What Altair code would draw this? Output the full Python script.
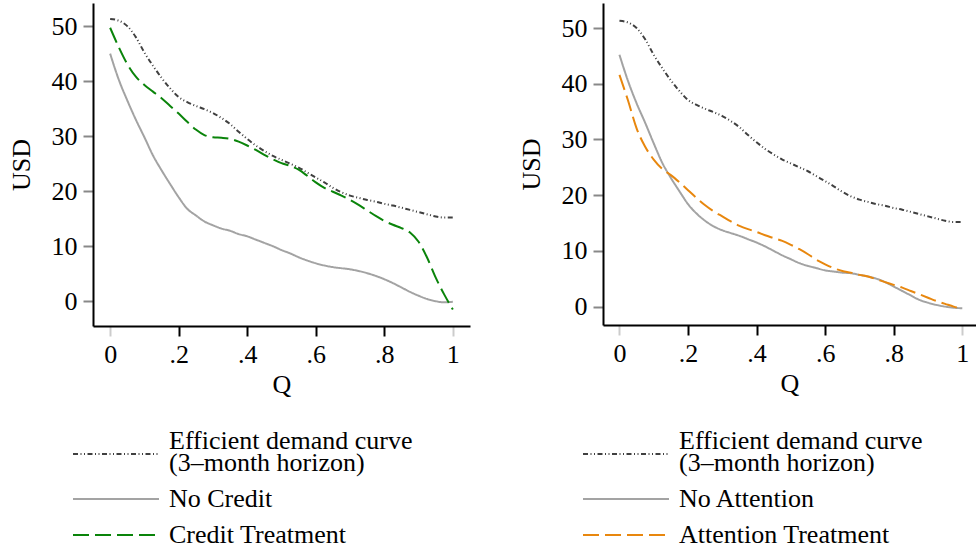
import altair as alt
import pandas as pd

FONT = "Liberation Serif"

Q = [round(i * 0.025, 3) for i in range(41)]

EFFICIENT = [51.3, 51.0, 50.0, 48.0, 45.2, 42.8, 40.6, 38.7, 37.1, 36.2, 35.5,
             34.9, 34.2, 33.3, 32.2, 30.8, 29.5, 28.3, 27.3, 26.4, 25.7, 25.0,
             24.3, 23.4, 22.5, 21.6, 20.6, 19.8, 19.2, 18.8, 18.4, 18.1, 17.7,
             17.4, 17.0, 16.6, 16.2, 15.8, 15.4, 15.2, 15.2]

NO_CREDIT = [45.0, 40.3, 36.5, 33.0, 29.8, 26.5, 23.8, 21.3, 18.9, 16.8, 15.6,
             14.5, 13.8, 13.2, 12.8, 12.2, 11.8, 11.2, 10.6, 10.0, 9.3, 8.7,
             8.0, 7.4, 6.9, 6.5, 6.2, 6.0, 5.8, 5.5, 5.1, 4.6, 4.0, 3.3, 2.5,
             1.7, 1.0, 0.4, 0.0, -0.2, -0.1]

CREDIT = [49.7, 46.2, 43.1, 40.8, 39.3, 38.1, 36.9, 35.5, 34.1, 32.6, 31.2,
          30.2, 29.8, 29.7, 29.5, 29.0, 28.3, 27.5, 26.6, 25.8, 25.1, 24.6,
          23.9, 22.8, 21.6, 20.6, 19.9, 19.2, 18.4, 17.5, 16.5, 15.5, 14.6,
          13.9, 13.3, 12.5, 10.8, 7.9, 4.3, 1.2, -1.5]

NO_ATTENTION = [45.2, 40.5, 36.5, 33.0, 29.3, 25.8, 23.1, 20.7, 18.4, 16.7,
                15.4, 14.4, 13.7, 13.2, 12.7, 12.1, 11.5, 10.8, 10.0, 9.2, 8.5,
                7.8, 7.3, 6.9, 6.5, 6.3, 6.1, 6.0, 5.7, 5.4, 5.0, 4.4, 3.6, 2.8,
                2.0, 1.2, 0.7, 0.3, 0.0, -0.2, -0.3]

ATTENTION = [41.6, 37.0, 32.0, 28.7, 26.4, 24.7, 23.6, 22.3, 20.9, 19.5, 18.2,
             17.1, 16.2, 15.3, 14.5, 13.9, 13.4, 12.8, 12.3, 11.8, 11.1, 10.3,
             9.4, 8.4, 7.6, 6.9, 6.4, 6.1, 5.7, 5.4, 4.9, 4.4, 3.9, 3.4, 2.8,
             2.2, 1.6, 1.0, 0.5, 0.0, -0.4]

EFF_LABEL = "Efficient demand curve"
EFF_SUB = "(3\u2013month horizon)"
LEFT_SERIES = [EFF_LABEL, "No Credit", "Credit Treatment"]
RIGHT_SERIES = [EFF_LABEL, "No Attention", "Attention Treatment"]
X_TICKS = [0, 0.2, 0.4, 0.6, 0.8, 1]
Y_TICKS = [0, 10, 20, 30, 40, 50]

EFF_COLOR = "#404040"
GRAY = "#a3a3a3"
GREEN = "#0a840a"
ORANGE = "#e8870e"


def long_df(names, lists):
    rows = []
    for name, vals in zip(names, lists):
        for q, v in zip(Q, vals):
            rows.append({"q": q, "v": v, "series": name})
    return pd.DataFrame(rows)


def panel(names, lists, colors, xdom, ydom, width, height):
    df = long_df(names, lists)
    legend = alt.Legend(
        orient="none", legendX=10, legendY=438, direction="vertical",
        symbolType="M-4,0H4", symbolSize=462.25, symbolStrokeWidth=2,
        labelFont=FONT, labelFontSize=26, labelColor="black", labelOffset=40,
        rowPadding=10, padding=0, title=None, labelLimit=600,
        labelBaseline={"expr": f"datum.value == '{EFF_LABEL}' ? 'bottom' : 'middle'"},
        labelExpr=f"datum.value == '{EFF_LABEL}' ? ['{EFF_LABEL}', '{EFF_SUB}'] : datum.label",
    )
    xaxis = alt.Axis(
        values=X_TICKS, title="Q", grid=False,
        labelExpr="datum.value == 0 ? '0' : datum.value == 1 ? '1' : '.' + round(datum.value * 10)",
        tickColor={"condition": {"test": "datum.value == 0 || datum.value == 1", "value": "#cccccc"}, "value": "black"},
    )
    yaxis = alt.Axis(values=Y_TICKS, title="USD", grid=False)
    return alt.Chart(df).mark_line(strokeWidth=2, interpolate="monotone").encode(
        x=alt.X("q:Q", scale=alt.Scale(domain=xdom, nice=False, zero=False), axis=xaxis),
        y=alt.Y("v:Q", scale=alt.Scale(domain=ydom, nice=False, zero=False), axis=yaxis),
        color=alt.Color("series:N", scale=alt.Scale(domain=names, range=colors), legend=legend),
        strokeDash=alt.StrokeDash("series:N", scale=alt.Scale(domain=names, range=[[5, 2.5, 1, 2.5, 1, 2.5], [1, 0], [16, 6]]), legend=legend),
    ).properties(width=width, height=height)


left = panel(LEFT_SERIES, [EFFICIENT, NO_CREDIT, CREDIT], [EFF_COLOR, GRAY, GREEN],
             [-0.05, 1.05], [-4.5, 54.2], 377, 323)
right = panel(RIGHT_SERIES, [EFFICIENT, NO_ATTENTION, ATTENTION], [EFF_COLOR, GRAY, ORANGE],
              [-0.048, 1.04], [-3.3, 54.5], 373, 322)

chart = alt.hconcat(left, right, spacing=48).resolve_scale(
    color="independent", strokeDash="independent", x="independent", y="independent"
).resolve_legend(color="independent", strokeDash="independent").properties(
    padding={"left": 8, "top": 3, "right": 0, "bottom": 0}
).configure(
    font=FONT, style={"guide-label": {"lineHeight": 22}}
).configure_view(stroke=None).configure_axis(
    domainColor="black", domainWidth=2, tickWidth=2, tickSize=10,
    labelFont=FONT, labelFontSize=26, labelColor="black", labelPadding=5,
    titleFont=FONT, titleFontSize=26, titleFontWeight="normal", titleColor="black",
).configure_axisY(titlePadding=17, labelPadding=6).configure_axisX(titlePadding=4)

chart.save("out.html", embed_options={"renderer": "svg", "actions": False})
